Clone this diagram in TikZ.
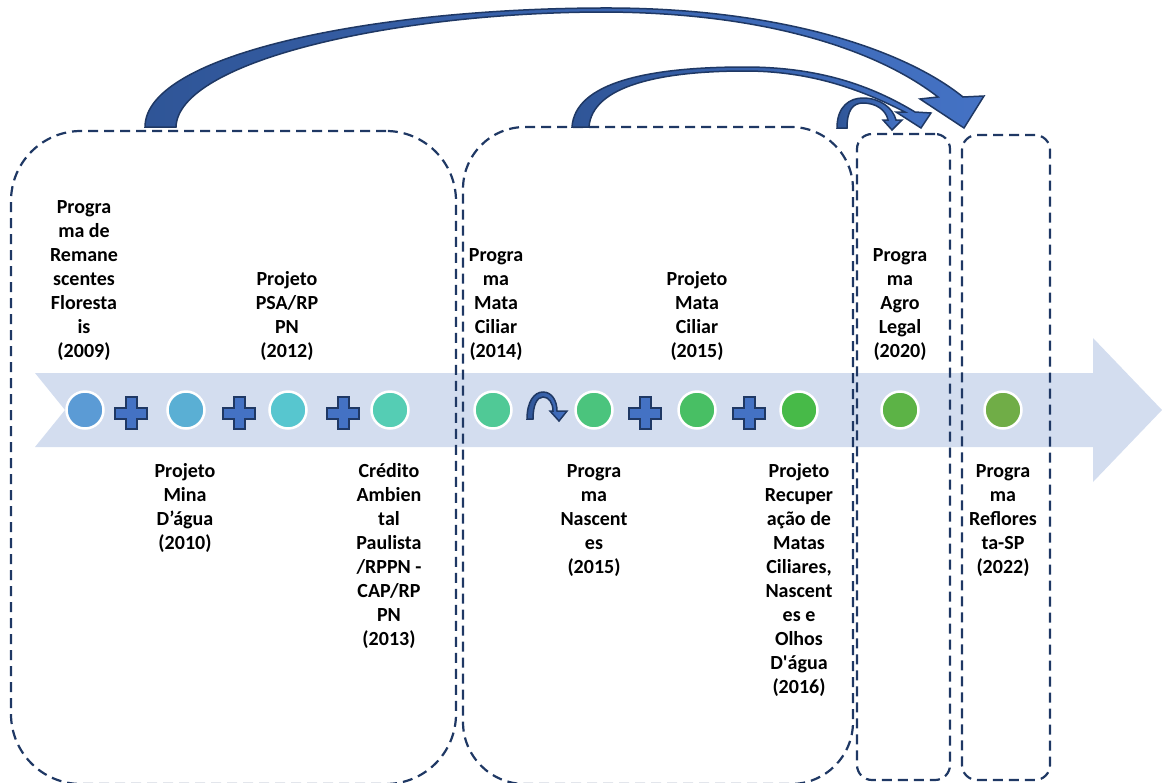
\documentclass[tikz,border=0pt]{standalone}
\usepackage{fontspec}
\setmainfont{Carlito}
% label font without TeX quote mapping, so ' stays straight
\newfontfamily\labelfont{Carlito}
\definecolor{navy}{HTML}{1F3864}
\definecolor{band}{HTML}{D3DDEF}
\definecolor{arrowdark}{HTML}{2F5597}
\definecolor{arrowlight}{HTML}{4472C4}
\definecolor{cA}{HTML}{5B9BD5}
\definecolor{cB}{HTML}{5AAFD4}
\definecolor{cC}{HTML}{57C6CF}
\definecolor{cD}{HTML}{55CDB4}
\definecolor{cE}{HTML}{50C996}
\definecolor{cF}{HTML}{4BC47D}
\definecolor{cG}{HTML}{48BF64}
\definecolor{cH}{HTML}{47BA48}
\definecolor{cI}{HTML}{5CB346}
\definecolor{cJ}{HTML}{70AD47}
\newcommand\firstline{\rule{0pt}{17pt}}
\newcommand\lastline{\rule[-6pt]{0pt}{6pt}}
\tikzset{
  dashbox/.style={draw=navy, line width=2.2pt, dash pattern=on 10pt off 6pt, inner sep=0pt, outer sep=0pt},
  dot/.style={circle, minimum size=37pt, inner sep=0pt, draw=white, line width=2.5pt},
  lbl/.style={font=\labelfont\fontsize{20}{24}\selectfont\bfseries, align=center, inner sep=0pt},
  toplbl/.style={lbl, anchor=south},
  botlbl/.style={lbl, anchor=north},
  blockarrow/.style={draw=navy, line width=1.5pt, line join=miter, left color=arrowdark, right color=arrowlight},
  plusfill/.style={draw=navy, line width=2pt, fill=arrowlight, line join=miter},
  pics/plusmark/.style={code={
    \draw[plusfill] (-5.5,-16) -- (5.5,-16) -- (5.5,-5.5) -- (16,-5.5) -- (16,5.5) -- (5.5,5.5)
      -- (5.5,16) -- (-5.5,16) -- (-5.5,5.5) -- (-16,5.5) -- (-16,-5.5) -- (-5.5,-5.5) -- cycle;}}
}
\begin{document}
\begin{tikzpicture}[x=1pt, y=-1pt]
\useasboundingbox (0,0) rectangle (1162,782);

% timeline band with notched tail and arrow head
\fill[band] (35,373) -- (1093,373) -- (1093,338) -- (1162,410) -- (1093,482)
  -- (1093,447) -- (35,447) -- (65,410) -- cycle;

% dashed groups
\node[dashbox, rounded corners=70pt, anchor=north west, minimum width=445pt, minimum height=653pt] (g1) at (11,131) {};
\node[dashbox, rounded corners=62pt, anchor=north west, minimum width=390pt, minimum height=657pt] (g2) at (463,127) {};
\node[dashbox, rounded corners=15pt, anchor=north west, minimum width=93pt, minimum height=646pt] (g3) at (857,134) {};
\node[dashbox, rounded corners=15pt, anchor=north west, minimum width=88pt, minimum height=645pt] (g4) at (962,135) {};

% milestones on the timeline
\node[dot, fill=cA] (c1) at (85,410) {};
\node[dot, fill=cB] (c2) at (186,410) {};
\node[dot, fill=cC] (c3) at (288,410) {};
\node[dot, fill=cD] (c4) at (390,410) {};
\node[dot, fill=cE] (c5) at (493,410) {};
\node[dot, fill=cF] (c6) at (594,410) {};
\node[dot, fill=cG] (c7) at (697,410) {};
\node[dot, fill=cH] (c8) at (799,410) {};
\node[dot, fill=cI] (c9) at (900,410) {};
\node[dot, fill=cJ] (c10) at (1003,410) {};

% plus marks between milestones
\pic at (131,413) {plusmark};
\pic at (239,413) {plusmark};
\pic at (343,413) {plusmark};
\pic at (645,413) {plusmark};
\pic at (749,413) {plusmark};

% small curved arrow between 2014 and 2015
\path[blockarrow] (527,419) .. controls (527,402) and (534,392) .. (543,392)
  .. controls (552,392) and (557,401) .. (557,411) -- (567,411) -- (559,421) -- (550,411) -- (553,411)
  .. controls (553,403) and (549,397) .. (543,397) .. controls (537,397) and (533,405) .. (533,419) -- cycle;

% curved block arrows over the groups
\path[blockarrow] (145,127) .. controls (145,55) and (370,9) .. (600,8)
  .. controls (780,7) and (905,50) .. (963,97) -- (984,96) -- (964,128) -- (920,99) -- (938,97)
  .. controls (880,52) and (770,12) .. (600,12)
  .. controls (390,13) and (178,62) .. (176,127) -- cycle;
\path[blockarrow] (572,127) .. controls (575,82) and (650,67) .. (745,67)
  .. controls (820,67) and (872,86) .. (915,112) -- (931,113) -- (921,128) -- (896,112) -- (905,112)
  .. controls (860,89) and (810,71) .. (745,71)
  .. controls (660,71) and (592,86) .. (589,127) -- cycle;
\path[blockarrow] (837,128) .. controls (837,106) and (850,98) .. (863,98)
  .. controls (880,98) and (893,108) .. (896,120) -- (902,120) -- (892,130) -- (883,120) -- (888,120)
  .. controls (886,110) and (876,103) .. (863,103)
  .. controls (853,103) and (847,110) .. (847,128) -- cycle;

% labels above the timeline
\node[toplbl] (t1) at (84,364) {Progra\\ma de\\Remane\\scentes\\Floresta\\is\\(2009)\lastline};
\node[toplbl] (t2) at (287,364) {Projeto\\PSA/RP\\PN\\(2012)\lastline};
\node[toplbl] (t3) at (496,364) {Progra\\ma\\Mata\\Ciliar\\(2014)\lastline};
\node[toplbl] (t4) at (697,364) {Projeto\\Mata\\Ciliar\\(2015)\lastline};
\node[toplbl] (t5) at (900,364) {Progra\\ma\\Agro\\Legal\\(2020)\lastline};

% labels below the timeline
\node[botlbl] (b1) at (185,460) {\firstline Projeto\\Mina\\D’água\\(2010)};
\node[botlbl] (b2) at (389,460) {\firstline Crédito\\Ambien\\tal\\Paulista\\/RPPN -\\CAP/RP\\PN\\(2013)};
\node[botlbl] (b3) at (594,460) {\firstline Progra\\ma\\Nascent\\es\\(2015)};
\node[botlbl] (b4) at (799,460) {\firstline Projeto\\Recuper\\ação de\\Matas\\Ciliares,\\Nascent\\es e\\Olhos\\D'água\\(2016)};
\node[botlbl] (b5) at (1003,460) {\firstline Progra\\ma\\Reflores\\ta-SP\\(2022)};
\end{tikzpicture}
\end{document}
